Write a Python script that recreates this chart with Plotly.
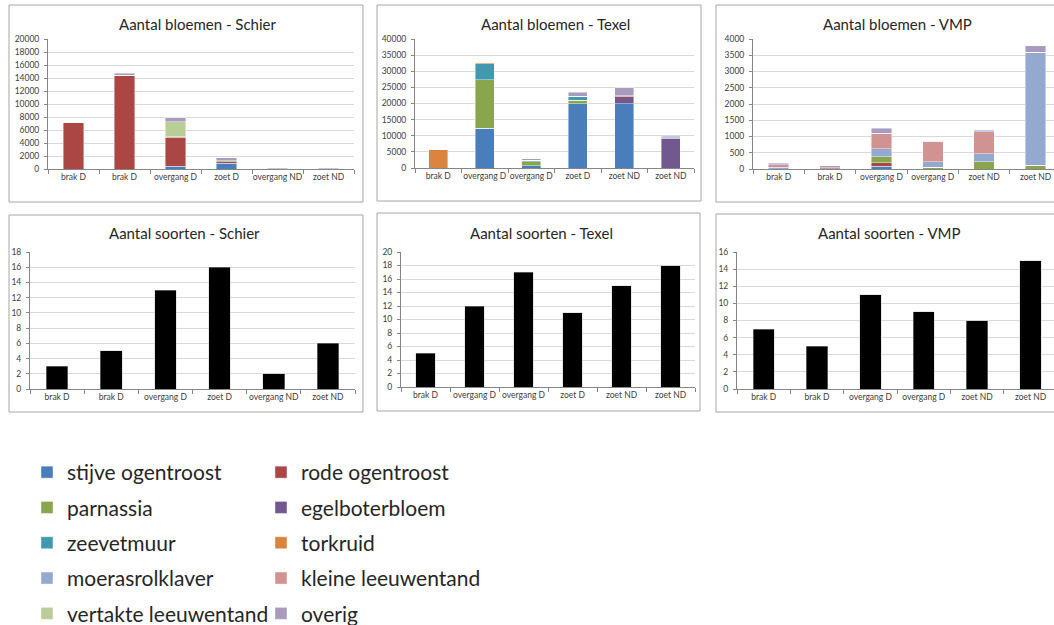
import plotly.graph_objects as go

W, H = 1054, 625

species = ["stijve ogentroost", "rode ogentroost", "parnassia", "egelboterbloem",
           "zeevetmuur", "torkruid", "moerasrolklaver", "kleine leeuwentand",
           "vertakte leeuwentand", "overig"]
colors = ["#4A7EBB", "#AA4643", "#89A54E", "#71588F", "#4198AF",
          "#DB843D", "#93A9CF", "#D19392", "#B9CD96", "#A99BBD"]

# ---- Schier ----
schier_cats = ["brak D", "brak D", "overgang D", "zoet D", "overgang ND", "zoet ND"]
schier_stijve = [0, 0, 400, 900, 0, 0]
schier_rode = [7200, 14400, 4500, 200, 0, 0]
schier_parnassia = [0, 0, 100, 150, 0, 0]
schier_egel = [0, 0, 0, 0, 0, 0]
schier_zeevet = [0, 0, 0, 0, 0, 0]
schier_torkruid = [0, 0, 0, 0, 0, 0]
schier_moeras = [0, 0, 0, 0, 0, 0]
schier_kleine = [0, 0, 0, 0, 0, 0]
schier_vertakte = [0, 0, 2300, 0, 0, 0]
schier_overig = [100, 300, 600, 450, 80, 80]
schier_soorten = [3, 5, 13, 16, 2, 6]

# ---- Texel ----
texel_cats = ["brak D", "overgang D", "overgang D", "zoet D", "zoet ND", "zoet ND"]
texel_stijve = [0, 12400, 700, 20000, 20000, 0]
texel_rode = [0, 0, 0, 0, 0, 0]
texel_parnassia = [0, 15000, 1300, 1000, 0, 0]
texel_egel = [0, 0, 0, 0, 2100, 9000]
texel_zeevet = [0, 5000, 400, 1300, 0, 0]
texel_torkruid = [5600, 400, 0, 0, 250, 100]
texel_moeras = [0, 0, 0, 0, 0, 300]
texel_kleine = [0, 0, 0, 0, 0, 0]
texel_vertakte = [0, 0, 0, 0, 0, 0]
texel_overig = [0, 0, 400, 1200, 2550, 400]
texel_soorten = [5, 12, 17, 11, 15, 18]

# ---- VMP ----
vmp_cats = ["brak D", "brak D", "overgang D", "overgang D", "zoet ND", "zoet ND"]
vmp_stijve = [0, 0, 80, 0, 0, 0]
vmp_rode = [0, 0, 110, 0, 0, 0]
vmp_parnassia = [0, 0, 190, 50, 220, 120]
vmp_egel = [0, 0, 0, 0, 0, 0]
vmp_zeevet = [0, 0, 0, 0, 0, 0]
vmp_torkruid = [0, 0, 0, 0, 0, 0]
vmp_moeras = [50, 0, 240, 170, 250, 3480]
vmp_kleine = [80, 40, 480, 630, 680, 0]
vmp_vertakte = [0, 0, 0, 0, 0, 0]
vmp_overig = [40, 60, 150, 20, 50, 200]
vmp_soorten = [7, 5, 11, 9, 8, 15]

schier_bloemen = [schier_stijve, schier_rode, schier_parnassia, schier_egel, schier_zeevet,
                  schier_torkruid, schier_moeras, schier_kleine, schier_vertakte, schier_overig]
texel_bloemen = [texel_stijve, texel_rode, texel_parnassia, texel_egel, texel_zeevet,
                 texel_torkruid, texel_moeras, texel_kleine, texel_vertakte, texel_overig]
vmp_bloemen = [vmp_stijve, vmp_rode, vmp_parnassia, vmp_egel, vmp_zeevet,
               vmp_torkruid, vmp_moeras, vmp_kleine, vmp_vertakte, vmp_overig]

# panel geometry (pixels): plot area x0,x1,y_top,y_bottom ; box ; title pos ; y range/dtick ; x range end
panels = [
    dict(cats=schier_cats, plot=(48, 354, 39, 169), box=(9, 5, 363, 202), title="Aantal bloemen - Schier",
         tpos=(197, 24), yr=20000, dt=2000, xend=5.5),
    dict(cats=texel_cats, plot=(415, 694, 39, 168), box=(377, 5, 701, 201), title="Aantal bloemen - Texel",
         tpos=(555, 24), yr=40000, dt=5000, xend=5.5),
    dict(cats=vmp_cats, plot=(753, 1054, 39, 169), box=(716, 5, 1075, 202), title="Aantal bloemen - VMP",
         tpos=(897, 24), yr=4000, dt=500, xend=5.36),
    dict(cats=schier_cats, plot=(30, 355, 252, 389), box=(9, 215, 363, 412), title="Aantal soorten - Schier",
         tpos=(185, 233), yr=18, dt=2, xend=5.5),
    dict(cats=texel_cats, plot=(401, 695, 252, 387), box=(377, 213, 700, 411), title="Aantal soorten - Texel",
         tpos=(541, 233), yr=20, dt=2, xend=5.5),
    dict(cats=vmp_cats, plot=(737, 1054, 252, 389), box=(716, 214, 1075, 412), title="Aantal soorten - VMP",
         tpos=(889, 233), yr=16, dt=2, xend=5.44),
]

fig = go.Figure()
xs = list(range(6))

bloemen_sets = [schier_bloemen, texel_bloemen, vmp_bloemen]
for p, data in enumerate(bloemen_sets):
    ax = "" if p == 0 else str(p + 1)
    for i, name in enumerate(species):
        fig.add_trace(go.Bar(
            x=xs, y=data[i], name=name,
            marker=dict(color=colors[i], line=dict(width=0.6, color="rgba(255,255,255,0.7)")),
            xaxis="x" + ax, yaxis="y" + ax, legendgroup=name,
            showlegend=(p == 0), legend=("legend" if i % 2 == 0 else "legend2"),
        ))

for p, vals in enumerate([schier_soorten, texel_soorten, vmp_soorten]):
    ax = str(p + 4)
    fig.add_trace(go.Bar(x=xs, y=vals, name="Aantal soorten",
                         marker=dict(color="#000000", line=dict(width=0.6, color="rgba(200,200,200,0.7)")),
                         xaxis="x" + ax, yaxis="y" + ax, showlegend=False))

axis_col = "#868686"
tick_font = dict(family="Lato", size=8.5, color="#404040")
shapes, annotations = [], []
for p, pn in enumerate(panels):
    ax = "" if p == 0 else str(p + 1)
    x0, x1, yt, yb = pn["plot"]
    fig.layout["xaxis" + ax] = dict(
        domain=[x0 / W, x1 / W], anchor="y" + ax, range=[-0.5, pn["xend"]],
        tickmode="array", tickvals=xs, ticktext=pn["cats"], ticks="",
        showline=True, linecolor=axis_col, linewidth=1, showgrid=False, zeroline=False,
        tickfont=tick_font, fixedrange=True, automargin=False,
        minor=dict(tick0=0.5, dtick=1, ticks="outside", ticklen=4, tickcolor=axis_col, showgrid=False),
    )
    fig.layout["yaxis" + ax] = dict(
        domain=[1 - yb / H, 1 - yt / H], anchor="x" + ax, range=[0, pn["yr"]], dtick=pn["dt"],
        tickformat="d", automargin=False,
        showline=True, linecolor=axis_col, linewidth=1, ticks="outside", ticklen=3, tickcolor=axis_col,
        showgrid=True, gridcolor="#d9d9d9", gridwidth=1, zeroline=False,
        tickfont=tick_font, fixedrange=True, ticklabelstandoff=3,
    )
    bx0, by0, bx1, by1 = pn["box"]
    shapes.append(dict(type="rect", xref="paper", yref="paper",
                       x0=bx0 / W, x1=bx1 / W, y0=1 - by1 / H, y1=1 - by0 / H,
                       line=dict(color="#a6a6a6", width=1), fillcolor="rgba(0,0,0,0)", layer="below"))
    tx, ty = pn["tpos"]
    annotations.append(dict(text=pn["title"], xref="paper", yref="paper", x=tx / W, y=1 - ty / H,
                            xanchor="center", yanchor="middle", showarrow=False,
                            font=dict(family="Lato", size=15, color="#262626")))

legend_common = dict(orientation="v", yanchor="top", xanchor="left", tracegroupgap=5,
                     font=dict(family="Lato", size=21, color="#262626"),
                     bgcolor="rgba(0,0,0,0)", itemclick=False, itemdoubleclick=False)
fig.update_layout(
    width=W, height=H, margin=dict(l=0, r=0, t=0, b=0, autoexpand=False),
    paper_bgcolor="white", plot_bgcolor="white",
    barmode="stack", bargap=0.6,
    font=dict(family="Lato"),
    shapes=shapes, annotations=annotations,
    legend=dict(x=27 / W, y=1 - 452 / H, **legend_common),
    legend2=dict(x=261 / W, y=1 - 452 / H, **legend_common),
)

fig.write_html("out.html", config={"displayModeBar": False},
               post_script="document.body.style.margin='0';document.body.style.overflow='hidden';")
